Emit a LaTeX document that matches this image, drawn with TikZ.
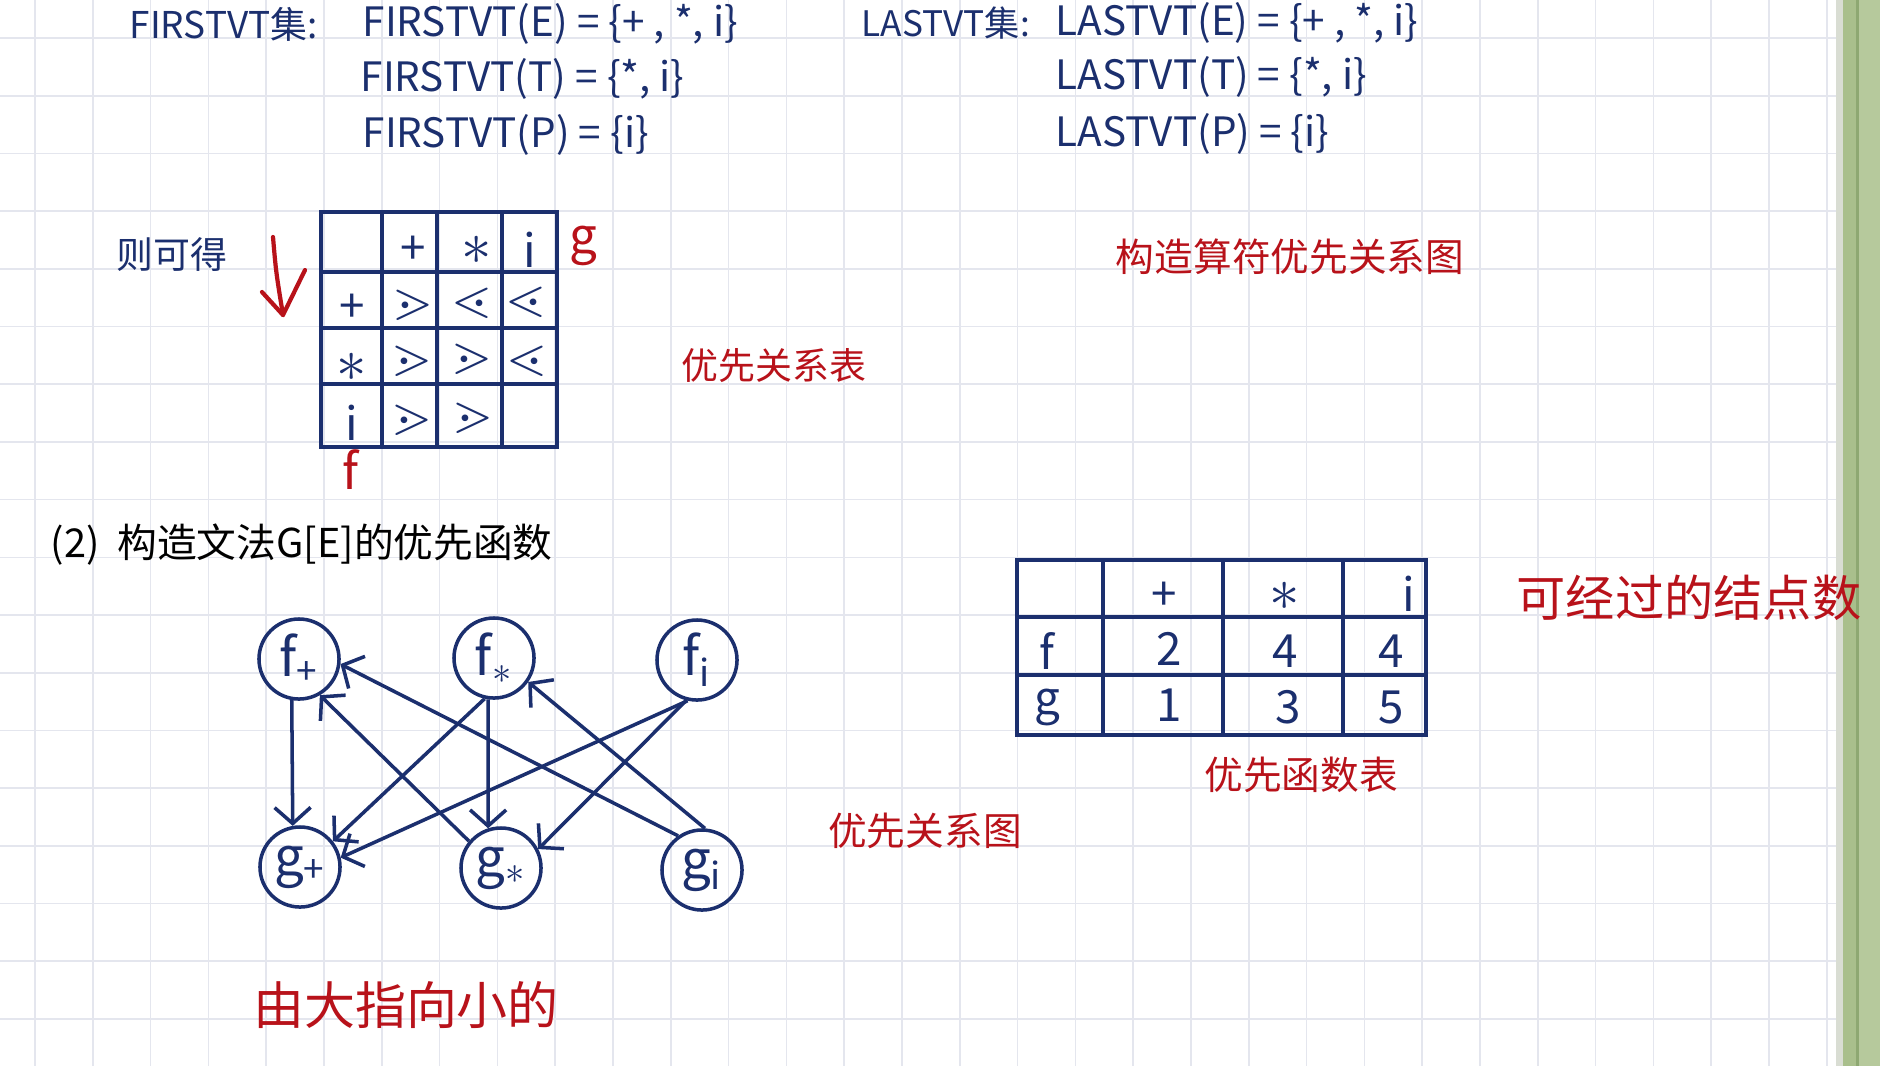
\documentclass[tikz,border=0pt]{standalone}
\usepackage{fontspec}
\setmainfont{Noto Sans CJK SC}
\usepackage{amssymb}
\usetikzlibrary{arrows.meta}
\definecolor{ink}{HTML}{1B2F6E}
\definecolor{redink}{HTML}{B8121A}
\definecolor{gridc}{HTML}{E4E6EE}
\definecolor{stripA}{HTML}{A9BF8C}
\definecolor{stripB}{HTML}{B6C99C}
\definecolor{stripC}{HTML}{8EA872}
\definecolor{stripE}{HTML}{D9DDD3}
\begin{document}
\begin{tikzpicture}[x=0.01cm,y=-0.01cm,
  gridline/.style={draw=gridc,line width=0.45pt},
  bt/.style={text=ink,inner sep=0pt,font=\fontsize{11.5}{14}\selectfont},
  rt/.style={text=redink,inner sep=0pt},
  tbl/.style={draw=ink,line width=1.1pt},
  cell/.style={text=ink,inner sep=0pt,font=\fontsize{13}{15}\selectfont},
  star/.style={text=ink,inner sep=0pt,font=\fontsize{18}{20}\selectfont},
  rel/.style={text=ink,inner sep=0pt,font=\fontsize{15}{17}\selectfont},
  vert/.style={circle,draw=ink,line width=1pt,minimum size=0.8cm,inner sep=0pt,text=ink,font=\fontsize{15}{17}\selectfont},
  edge/.style={draw=ink,line width=1pt,-{Straight Barb[length=1.6mm,width=3.6mm,line width=1pt]}}
]
% background and bounding box
\fill[white] (0,0) rectangle (1880,1066);
\useasboundingbox (0,0) rectangle (1880,1066);
\foreach \i in {0,...,31} \draw[gridline] ({35+57.8*\i},0) -- ({35+57.8*\i},1066);
\foreach \j in {0,...,17} \draw[gridline] (0,{38+57.7*\j}) -- (1838,{38+57.7*\j});
% green strip at the right
\fill[stripE] (1836,0) rectangle (1843,1066);
\fill[stripA] (1843,0) rectangle (1856,1066);
\fill[stripC] (1856,0) rectangle (1859,1066);
\fill[stripB] (1859,0) rectangle (1880,1066);

% top: FIRSTVT / LASTVT sets
\node[bt,anchor=west,font=\fontsize{10.5}{13}\selectfont] (firstlbl) at (129,24) {FIRSTVT集:};
\node[bt,anchor=west] (firstE) at (362,24) {FIRSTVT(E) = \{+ , *, i\}};
\node[bt,anchor=west] (firstT) at (360,79) {FIRSTVT(T) = \{*, i\}};
\node[bt,anchor=west] (firstP) at (362,135) {FIRSTVT(P) = \{i\}};
\node[bt,anchor=west,font=\fontsize{10}{13}\selectfont] (lastlbl) at (861,23) {LASTVT集:};
\node[bt,anchor=west] (lastE) at (1055,23) {LASTVT(E) = \{+ , *, i\}};
\node[bt,anchor=west] (lastT) at (1055,77) {LASTVT(T) = \{*, i\}};
\node[bt,anchor=west] (lastP) at (1055,134) {LASTVT(P) = \{i\}};

% precedence relation table
\node[bt,anchor=west,font=\fontsize{10.5}{13}\selectfont] (zekede) at (116,255) {则可得};
\coordinate (arrS) at (273,237);
\coordinate (arrT) at (283,315);
\coordinate (arrL) at (262,292);
\coordinate (arrR) at (305,270);
\draw[redink,line width=1.2pt,line cap=round,line join=round] (arrS) .. controls (276,272) .. (arrT);
\draw[redink,line width=1.2pt,line cap=round,line join=round] (arrL) -- (arrT) -- (arrR);
\draw[tbl] (321,212) rectangle (557,447);
\foreach \x in {382,437,502} \draw[tbl] (\x,212) -- (\x,447);
\foreach \y in {272,328,384} \draw[tbl] (321,\y) -- (557,\y);
\node[cell] (h1) at (413,250) {+};
\node[star] (h2) at (477,250) {$\ast$};
\node[cell] (h3) at (530,250) {i};
\node[cell] (r1) at (352,308) {+};
\node[star] (r2) at (352,367) {$\ast$};
\node[cell] (r3) at (352,423) {i};
\node[rel] (a11) at (413,305) {$\gtrdot$};
\node[rel] (a12) at (472,303) {$\lessdot$};
\node[rel] (a13) at (526,302) {$\lessdot$};
\node[rel] (a21) at (412,361) {$\gtrdot$};
\node[rel] (a22) at (472,359) {$\gtrdot$};
\node[rel] (a23) at (527,361) {$\lessdot$};
\node[rel] (a31) at (412,420) {$\gtrdot$};
\node[rel] (a32) at (473,418) {$\gtrdot$};
\node[rt,font=\fontsize{14}{16}\selectfont] (glab) at (583,246) {g};
\node[rt,font=\fontsize{14}{16}\selectfont] (flab) at (350,470) {f};
\node[rt,font=\fontsize{10.5}{12}\selectfont] (gxgxb) at (774,366) {优先关系表};
\node[rt,font=\fontsize{11}{13}\selectfont] (gzsf) at (1290,257) {构造算符优先关系图};

% part (2)
\node[anchor=west,inner sep=0pt,font=\fontsize{11.3}{14}\selectfont] (part2) at (50,545) {(2)\ \ 构造文法G[E]的优先函数};

% precedence graph
\node[vert] (fp) at (299,659) {f\textsubscript{+}};
\node[vert] (fs) at (494,658) {f\textsubscript{$\ast$}};
\node[vert] (fi) at (697,660) {f\textsubscript{i}};
\node[vert] (gp) at (300,867) {g\textsubscript{+}};
\node[vert] (gs) at (501,868) {g\textsubscript{$\ast$}};
\node[vert] (gi) at (702,870) {g\textsubscript{i}};
\draw[edge] (fp.260) -- (gp.100);
\draw[edge] (fs.257) -- (gp.38);
\draw[edge] (fs.262) -- (gs.108);
\draw[edge] (fi.257) -- (gp.13);
\draw[edge] (fi.255) -- (gs.27);
\draw[edge] (gs.140) -- (fp.300);
\draw[edge] (gi.125) -- (fp.353);
\draw[edge] (gi.86) -- (fs.325);
\node[rt,font=\fontsize{11}{13}\selectfont] (gxgxt) at (925,831) {优先关系图};
\node[rt,font=\fontsize{14.5}{16}\selectfont] (ydzx) at (406,1005) {由大指向小的};

% precedence function table
\draw[tbl] (1017,560) rectangle (1426,735);
\foreach \x in {1103,1223,1343} \draw[tbl] (\x,560) -- (\x,735);
\foreach \y in {617,675} \draw[tbl] (1017,\y) -- (1426,\y);
\node[cell] (fh1) at (1164,596) {+};
\node[star] (fh2) at (1285,596) {$\ast$};
\node[cell] (fh3) at (1409,594) {i};
\node[cell] (ff) at (1047,651) {f};
\node[cell] (fg) at (1047,707) {g};
\node[cell] (f1) at (1169,649) {2};
\node[cell] (f2) at (1285,651) {4};
\node[cell] (f3) at (1391,651) {4};
\node[cell] (g1) at (1169,705) {1};
\node[cell] (g2) at (1288,707) {3};
\node[cell] (g3) at (1391,707) {5};
\node[rt,font=\fontsize{11}{13}\selectfont] (gxhsb) at (1301,775) {优先函数表};
\node[rt,font=\fontsize{14}{16}\selectfont] (kjgd) at (1689,598) {可经过的结点数};
\end{tikzpicture}
\end{document}
